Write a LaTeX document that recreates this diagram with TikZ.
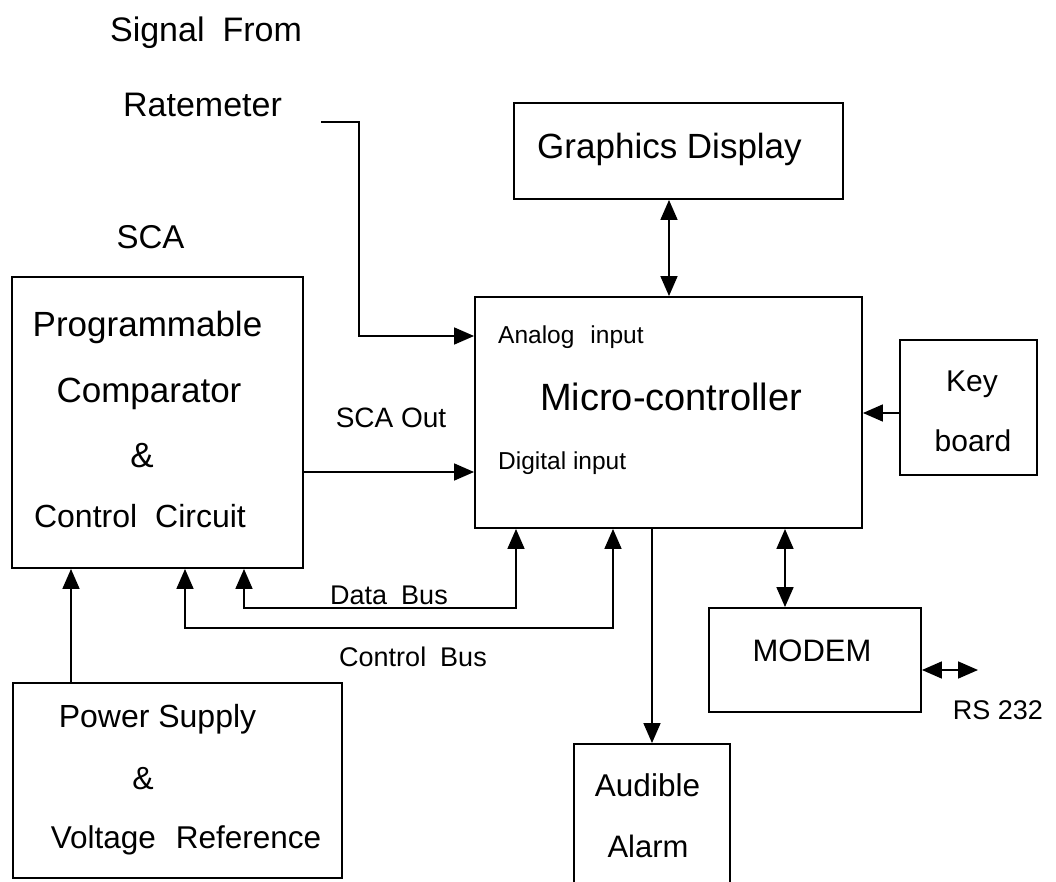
\documentclass[tikz,border=0pt]{standalone}
\usepackage{fontspec}
\setmainfont{Liberation Sans}
\usetikzlibrary{arrows.meta}
\newcommand\fsz[1]{\fontsize{#1}{#1}\selectfont}
\tikzset{
  box/.style={draw, line width=1.9pt, inner sep=0pt},
  lbl/.style={inner sep=0pt, anchor=base},
  lblw/.style={inner sep=0pt, anchor=base west},
  conn/.style={line width=1.7pt},
  tip/.tip={Triangle[length=20pt,width=17pt]},
  arr/.style={conn, -tip},
  arrr/.style={conn, tip-tip},
}
\begin{document}
\begin{tikzpicture}[x=1pt,y=-1pt]
\fill[white] (0,0) rectangle (1056,882);
\useasboundingbox (0,0) rectangle (1056,882);

% boxes
\node[box, minimum width=291pt, minimum height=291pt] (sca) at (157.5,422.5) {};
\node[box, minimum width=329pt, minimum height=96pt] (gfx) at (678.5,151) {};
\node[box, minimum width=387pt, minimum height=231pt] (micro) at (668.5,412.5) {};
\node[box, minimum width=137pt, minimum height=135pt] (key) at (968.5,407.5) {};
\node[box, minimum width=212pt, minimum height=104pt] (modem) at (815,660) {};
\node[box, minimum width=156pt, minimum height=156pt] (alarm) at (652,822) {};
\node[box, minimum width=329pt, minimum height=195pt] (power) at (177.5,780.5) {};

% labels
\node[lbl, font=\fsz{34}] (lsig) at (206,42) {Signal\hspace{18pt}From};
\node[lbl, font=\fsz{34}] (lrate) at (202.5,117) {Ratemeter};
\node[lbl, font=\fsz{33}] (lsca) at (150.5,249) {SCA};
\node[lbl, font=\fsz{35}] (lprog) at (147.5,336.5) {Programmable};
\node[lbl, font=\fsz{35}] (lcomp) at (149,402.5) {Comparator};
\node[lbl, font=\fsz{35}] (lamp1) at (142,467.5) {\&};
\node[lbl, font=\fsz{32}] (lctrl) at (140,527.5) {Control\hspace{18pt}Circuit};
\node[lbl, font=\fsz{28}] (lscao) at (391,427) {SCA Out};
\node[lbl, font=\fsz{27}] (ldata) at (389,604.5) {Data\hspace{14pt}Bus};
\node[lbl, font=\fsz{27}] (lcbus) at (413,666.5) {Control\hspace{14pt}Bus};
\node[lbl, font=\fsz{35}] (lgfx) at (669.5,158.5) {Graphics Display};
\node[lblw, font=\fsz{38}] (lmc) at (540,410.5) {Micro-controller};
\node[lblw, font=\fsz{24.5}] (lain) at (498,343) {Analog\hspace{16pt}input};
\node[lblw, font=\fsz{24.5}] (ldin) at (498,469) {Digital input};
\node[lbl, font=\fsz{30}] (lkey) at (972,391.5) {Key};
\node[lbl, font=\fsz{30}] (lboard) at (973,451.5) {board};
\node[lbl, font=\fsz{31}] (lmodem) at (812,661) {MODEM};
\node[lbl, font=\fsz{27}] (lrs) at (998,719.5) {RS 232};
\node[lbl, font=\fsz{31.5}] (laud) at (647.5,796.5) {Audible};
\node[lbl, font=\fsz{31}] (lalarm) at (648,857) {Alarm};
\node[lbl, font=\fsz{32}] (lpow) at (157.5,727.5) {Power Supply};
\node[lbl, font=\fsz{32}] (lamp2) at (143,789.5) {\&};
\node[lbl, font=\fsz{31.5}] (lvolt) at (186,848) {Voltage\hspace{20pt}Reference};

% helper coordinates
\coordinate (rmend) at (321,122);
\coordinate (rmcorner) at (359,122);
\coordinate (ain) at (359,336);
\coordinate (din) at (400,472);
\coordinate (gx) at (669,0);
\coordinate (ky) at (0,413);
\coordinate (mx) at (785,0);
\coordinate (ax) at (652,0);
\coordinate (rsend) at (978,670);
\coordinate (dbl) at (244,608);
\coordinate (dbr) at (516,608);
\coordinate (cbl) at (185,628);
\coordinate (cbr) at (613,628);
\coordinate (px) at (71,0);

% connectors
\draw[arr] (rmend) -- (rmcorner) -- (ain) -- (micro.west |- ain);
\draw[arr] (sca.east |- din) -- (micro.west |- din);
\draw[arrr] (gfx.south -| gx) -- (micro.north -| gx);
\draw[arr] (key.west |- ky) -- (micro.east |- ky);
\draw[arrr] (micro.south -| mx) -- (modem.north -| mx);
\draw[arrr] (modem.east |- rsend) -- (rsend);
\draw[arr] (micro.south -| ax) -- (alarm.north -| ax);
\draw[arrr] (sca.south -| dbl) -- (dbl) -- (dbr) -- (micro.south -| dbr);
\draw[arrr] (sca.south -| cbl) -- (cbl) -- (cbr) -- (micro.south -| cbr);
\draw[arr] (power.north -| px) -- (sca.south -| px);
\end{tikzpicture}
\end{document}
